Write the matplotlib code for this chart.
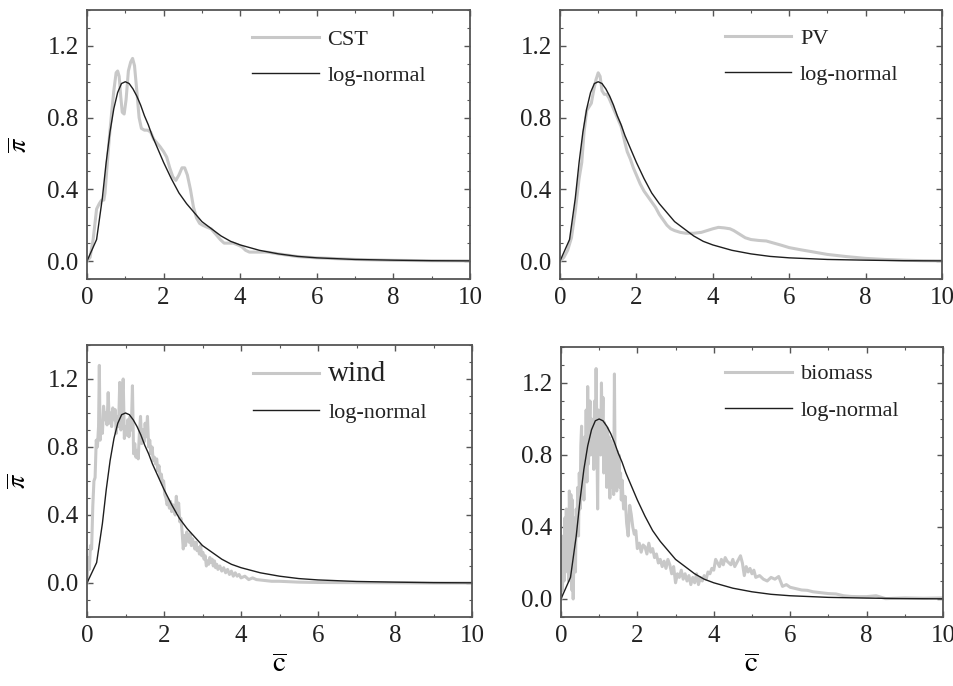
import matplotlib
matplotlib.use("Agg")
import matplotlib.pyplot as plt
from matplotlib.ticker import MultipleLocator
import numpy as np

plt.rcParams["font.family"] = ["Liberation Serif", "DejaVu Serif"]
plt.rcParams["mathtext.fontset"] = "stix"

# shared log-normal fit (normalised to 1 at the mode)
lognorm_c = [0, 0.25, 0.4, 0.5, 0.6, 0.7, 0.8, 0.9, 1.0, 1.1, 1.2, 1.3, 1.4, 1.5,
             1.6, 1.7, 1.8, 1.9, 2.0, 2.2, 2.4, 2.6, 2.8, 3.0, 3.25, 3.5, 3.75,
             4.0, 4.5, 5.0, 5.5, 6.0, 7.0, 8.0, 9.0, 10.0]
lognorm_pi = [0, 0.12, 0.35, 0.55, 0.72, 0.85, 0.94, 0.99, 1.0, 0.99, 0.96, 0.92,
              0.87, 0.81, 0.76, 0.70, 0.65, 0.60, 0.55, 0.46, 0.38, 0.32, 0.27,
              0.22, 0.18, 0.14, 0.11, 0.09, 0.06, 0.04, 0.026, 0.018, 0.009,
              0.005, 0.002, 0.001]

# CST
cst_c = [0.00, 0.08, 0.16, 0.25, 0.32, 0.38, 0.44, 0.47, 0.52, 0.58, 0.64, 0.70,
         0.76, 0.80, 0.84, 0.88, 0.92, 0.97, 1.02, 1.08, 1.14, 1.19, 1.24, 1.30,
         1.36, 1.42, 1.50, 1.58, 1.66, 1.74, 1.82, 1.90, 2.00, 2.08, 2.16, 2.24,
         2.32, 2.40, 2.48, 2.55, 2.62, 2.70, 2.78, 2.86, 2.94, 3.02, 3.12, 3.24,
         3.36, 3.48, 3.58, 3.70, 3.82, 3.94, 4.04, 4.14, 4.24, 4.36, 4.50, 4.70,
         5.00, 5.50, 6.00, 7.00, 8.00, 9.00, 10.0]
cst_pi = [0.00, 0.02, 0.12, 0.29, 0.32, 0.34, 0.34, 0.38, 0.52, 0.68, 0.82, 0.95,
          1.05, 1.06, 1.03, 0.92, 0.83, 0.82, 0.90, 1.06, 1.11, 1.13, 1.09, 0.95,
          0.80, 0.74, 0.73, 0.73, 0.72, 0.68, 0.66, 0.64, 0.61, 0.58, 0.52, 0.47,
          0.45, 0.48, 0.52, 0.52, 0.48, 0.40, 0.30, 0.24, 0.21, 0.20, 0.19, 0.18,
          0.15, 0.12, 0.10, 0.10, 0.10, 0.09, 0.08, 0.06, 0.05, 0.05, 0.05, 0.05,
          0.04, 0.025, 0.018, 0.009, 0.004, 0.002, 0.001]

# PV
pv_c = [0.00, 0.10, 0.20, 0.30, 0.40, 0.50, 0.57, 0.63, 0.70, 0.76, 0.82, 0.88,
        0.94, 1.00, 1.05, 1.10, 1.16, 1.22, 1.28, 1.34, 1.40, 1.50, 1.60, 1.70,
        1.76, 1.84, 1.92, 2.00, 2.10, 2.20, 2.30, 2.40, 2.50, 2.60, 2.70, 2.80,
        2.90, 3.00, 3.15, 3.30, 3.50, 3.70, 3.85, 4.00, 4.15, 4.30, 4.45, 4.55,
        4.70, 4.85, 5.00, 5.20, 5.40, 5.60, 5.80, 6.00, 6.30, 6.60, 7.00, 7.50,
        8.00, 8.50, 9.00, 9.50, 10.0]
pv_pi = [0.00, 0.02, 0.06, 0.13, 0.28, 0.46, 0.55, 0.72, 0.84, 0.86, 0.88, 0.95,
         1.01, 1.05, 1.03, 0.95, 0.93, 0.93, 0.91, 0.88, 0.85, 0.80, 0.75, 0.66,
         0.61, 0.57, 0.52, 0.48, 0.43, 0.39, 0.36, 0.33, 0.30, 0.26, 0.23, 0.20,
         0.18, 0.17, 0.16, 0.155, 0.155, 0.16, 0.17, 0.18, 0.188, 0.185, 0.18,
         0.17, 0.15, 0.13, 0.12, 0.115, 0.112, 0.10, 0.088, 0.075, 0.063, 0.052,
         0.037, 0.025, 0.015, 0.009, 0.005, 0.002, 0.001]

# wind
wind_c = [0.00, 0.03, 0.06, 0.09, 0.12, 0.15, 0.18, 0.21, 0.24, 0.27, 0.30, 0.32,
          0.34, 0.37, 0.40, 0.43, 0.46, 0.49, 0.52, 0.55, 0.58, 0.61, 0.64, 0.67,
          0.70, 0.73, 0.76, 0.79, 0.82, 0.85, 0.88, 0.91, 0.94, 0.97, 1.00, 1.03,
          1.06, 1.09, 1.12, 1.15, 1.18, 1.21, 1.24, 1.27, 1.30, 1.33, 1.36, 1.39,
          1.42, 1.45, 1.48, 1.51, 1.54, 1.57, 1.60, 1.63, 1.66, 1.69, 1.72, 1.75,
          1.78, 1.81, 1.84, 1.87, 1.90, 1.93, 1.96, 1.99, 2.02, 2.05, 2.08, 2.11,
          2.14, 2.17, 2.20, 2.23, 2.26, 2.29, 2.32, 2.35, 2.38, 2.41, 2.44, 2.47,
          2.50, 2.53, 2.56, 2.59, 2.62, 2.65, 2.68, 2.71, 2.74, 2.77, 2.80, 2.83,
          2.86, 2.89, 2.92, 2.95, 2.98, 3.01, 3.04, 3.07, 3.10, 3.13, 3.16, 3.19,
          3.22, 3.25, 3.28, 3.31, 3.34, 3.37, 3.40, 3.45, 3.50, 3.55, 3.60, 3.65,
          3.70, 3.75, 3.80, 3.85, 3.90, 3.95, 4.00, 4.10, 4.20, 4.30, 4.40, 4.60,
          4.80, 5.00, 5.50, 6.00, 7.00, 8.00, 9.00, 10.0]
wind_pi = [0.00, 0.15, 0.08, 0.22, 0.20, 0.45, 0.60, 0.62, 0.84, 0.80, 0.92, 1.28,
           0.84, 0.95, 0.88, 1.04, 0.96, 1.00, 0.93, 1.12, 0.94, 1.00, 0.92, 1.03,
           0.96, 1.02, 0.88, 0.98, 0.92, 1.18, 0.90, 1.10, 1.20, 0.85, 0.92, 0.87,
           0.96, 0.86, 0.98, 0.90, 1.16, 0.76, 0.82, 0.74, 0.78, 0.73, 0.88, 0.98,
           0.82, 0.90, 0.83, 0.94, 0.86, 0.98, 0.80, 0.84, 0.76, 0.80, 0.72, 0.74,
           0.70, 0.73, 0.66, 0.69, 0.62, 0.64, 0.58, 0.60, 0.52, 0.50, 0.46, 0.49,
           0.44, 0.48, 0.42, 0.46, 0.44, 0.40, 0.51, 0.42, 0.47, 0.36, 0.38, 0.30,
           0.20, 0.28, 0.22, 0.30, 0.26, 0.24, 0.29, 0.22, 0.26, 0.23, 0.20, 0.24,
           0.19, 0.21, 0.17, 0.22, 0.16, 0.18, 0.14, 0.16, 0.10, 0.13, 0.11, 0.15,
           0.12, 0.14, 0.10, 0.13, 0.09, 0.11, 0.08, 0.10, 0.07, 0.09, 0.06, 0.08,
           0.05, 0.07, 0.04, 0.06, 0.04, 0.05, 0.03, 0.04, 0.02, 0.03, 0.02, 0.015,
           0.01, 0.01, 0.005, 0.003, 0.002, 0.001, 0.0, 0.0]

# biomass
bio_c = [0.00, 0.02, 0.04, 0.06, 0.08, 0.10, 0.12, 0.14, 0.16, 0.18, 0.20, 0.22,
         0.24, 0.26, 0.28, 0.30, 0.32, 0.34, 0.36, 0.38, 0.40, 0.42, 0.44, 0.46,
         0.48, 0.50, 0.52, 0.54, 0.56, 0.58, 0.60, 0.62, 0.64, 0.66, 0.68, 0.70,
         0.72, 0.74, 0.76, 0.78, 0.80, 0.82, 0.84, 0.86, 0.88, 0.90, 0.92, 0.94,
         0.96, 0.98, 1.00, 1.02, 1.04, 1.06, 1.08, 1.10, 1.12, 1.14, 1.16, 1.18,
         1.20, 1.22, 1.24, 1.26, 1.28, 1.30, 1.32, 1.34, 1.36, 1.38, 1.40, 1.42,
         1.44, 1.46, 1.48, 1.50, 1.52, 1.54, 1.56, 1.58, 1.60, 1.64, 1.68, 1.72,
         1.76, 1.80, 1.84, 1.88, 1.92, 1.96, 2.00, 2.05, 2.10, 2.15, 2.20, 2.25,
         2.30, 2.35, 2.40, 2.45, 2.50, 2.55, 2.60, 2.65, 2.70, 2.75, 2.80, 2.85,
         2.90, 2.95, 3.00, 3.05, 3.10, 3.15, 3.20, 3.25, 3.30, 3.35, 3.40, 3.45,
         3.50, 3.55, 3.60, 3.65, 3.70, 3.75, 3.80, 3.85, 3.90, 3.95, 4.00, 4.05,
         4.10, 4.15, 4.20, 4.25, 4.30, 4.35, 4.40, 4.45, 4.50, 4.55, 4.60, 4.65,
         4.70, 4.75, 4.80, 4.85, 4.90, 4.95, 5.00, 5.05, 5.10, 5.20, 5.30, 5.40,
         5.50, 5.60, 5.70, 5.80, 5.90, 6.00, 6.10, 6.20, 6.30, 6.45, 6.60, 6.80,
         7.00, 7.20, 7.40, 7.60, 7.80, 8.00, 8.25, 8.50, 9.00, 9.50, 10.0]
bio_pi = [0.00, 0.30, 0.05, 0.35, 0.10, 0.45, 0.15, 0.50, 0.20, 0.40, 0.10, 0.60,
          0.30, 0.58, 0.05, 0.55, 0.00, 0.25, 0.45, 0.15, 0.50, 0.40, 0.62, 0.35,
          0.70, 0.50, 0.85, 0.96, 0.60, 0.80, 0.55, 0.90, 0.70, 1.05, 0.65, 1.18,
          0.75, 0.95, 1.10, 0.80, 1.00, 0.85, 0.95, 0.72, 1.10, 0.86, 1.28, 0.92,
          0.50, 1.05, 0.85, 0.95, 0.80, 1.20, 0.88, 1.12, 0.70, 0.98, 0.78, 0.92,
          0.62, 0.95, 0.75, 0.90, 0.56, 0.88, 0.62, 0.85, 0.70, 0.58, 1.25, 0.65,
          0.78, 0.60, 0.82, 0.66, 0.80, 0.62, 0.70, 0.55, 0.66, 0.50, 0.57, 0.42,
          0.35, 0.52, 0.47, 0.40, 0.36, 0.38, 0.28, 0.31, 0.26, 0.30, 0.29, 0.25,
          0.31, 0.26, 0.28, 0.23, 0.25, 0.20, 0.22, 0.18, 0.21, 0.17, 0.22, 0.19,
          0.14, 0.18, 0.09, 0.14, 0.12, 0.16, 0.11, 0.14, 0.10, 0.13, 0.08, 0.12,
          0.09, 0.14, 0.08, 0.12, 0.10, 0.13, 0.11, 0.15, 0.14, 0.17, 0.16, 0.22,
          0.20, 0.18, 0.22, 0.19, 0.23, 0.21, 0.20, 0.19, 0.22, 0.18, 0.20, 0.22,
          0.24, 0.20, 0.13, 0.18, 0.15, 0.17, 0.14, 0.16, 0.12, 0.13, 0.11, 0.10,
          0.12, 0.11, 0.125, 0.07, 0.08, 0.065, 0.06, 0.055, 0.05, 0.048, 0.04,
          0.035, 0.03, 0.028, 0.018, 0.014, 0.013, 0.013, 0.018, 0.002, 0.006,
          0.004, 0.006]

panels = [
    # name, c, pi, axes rect, ylim bottom, legend font size, legend top
    ("CST", cst_c, cst_pi, [0.0912, 0.5933, 0.4015, 0.3921], -0.1, 16, 0.985),
    ("PV", pv_c, pv_pi, [0.5870, 0.5933, 0.4004, 0.3921], -0.1, 16, 0.99),
    ("wind", wind_c, wind_pi, [0.0912, 0.1006, 0.4036, 0.3965], -0.2, 21, 1.0),
    ("biomass", bio_c, bio_pi, [0.5880, 0.1006, 0.4004, 0.3936], -0.1, 16, 0.995),
]

fig = plt.figure(figsize=(9.54, 6.86), dpi=100)

for i, (name, c, pi, rect, ybot, lfs, ltop) in enumerate(panels):
    ax = fig.add_axes(rect)
    ax.plot(c, pi, color="#c8c8c8", lw=2.2, label=name)
    ax.plot(lognorm_c, lognorm_pi, color="#1e1e1e", lw=1.0, label="log-normal")

    ax.set_xlim(0, 10)
    ax.set_ylim(ybot, 1.4)
    ax.xaxis.set_major_locator(MultipleLocator(2))
    ax.xaxis.set_minor_locator(MultipleLocator(1))
    ax.yaxis.set_major_locator(MultipleLocator(0.4))
    ax.yaxis.set_minor_locator(MultipleLocator(0.1))
    ax.tick_params(which="both", direction="in", top=True, right=True,
                   colors="#555555", labelcolor="#222222", labelsize=18)
    ax.tick_params(which="major", length=4, width=1.0, pad=6)
    ax.tick_params(which="minor", length=2.5, width=0.8)
    for s in ax.spines.values():
        s.set_color("#555555")
        s.set_linewidth(1.3)

    if i % 2 == 0:
        ax.set_ylabel(r"$\overline{\pi}$", fontsize=19)
        ax.yaxis.set_label_coords(-0.145, 0.5)
    if i >= 2:
        ax.set_xlabel(r"$\overline{\mathrm{c}}$", fontsize=21, labelpad=4)

    leg = ax.legend(loc="upper left", bbox_to_anchor=(0.39, ltop), frameon=False,
                    fontsize=16, handlelength=3.0, handletextpad=0.4,
                    labelspacing=0.7, borderaxespad=0.3)
    leg.get_texts()[0].set_fontsize(lfs)
    for t in leg.get_texts():
        t.set_color("#222222")

fig.savefig("out.png", dpi=100)
